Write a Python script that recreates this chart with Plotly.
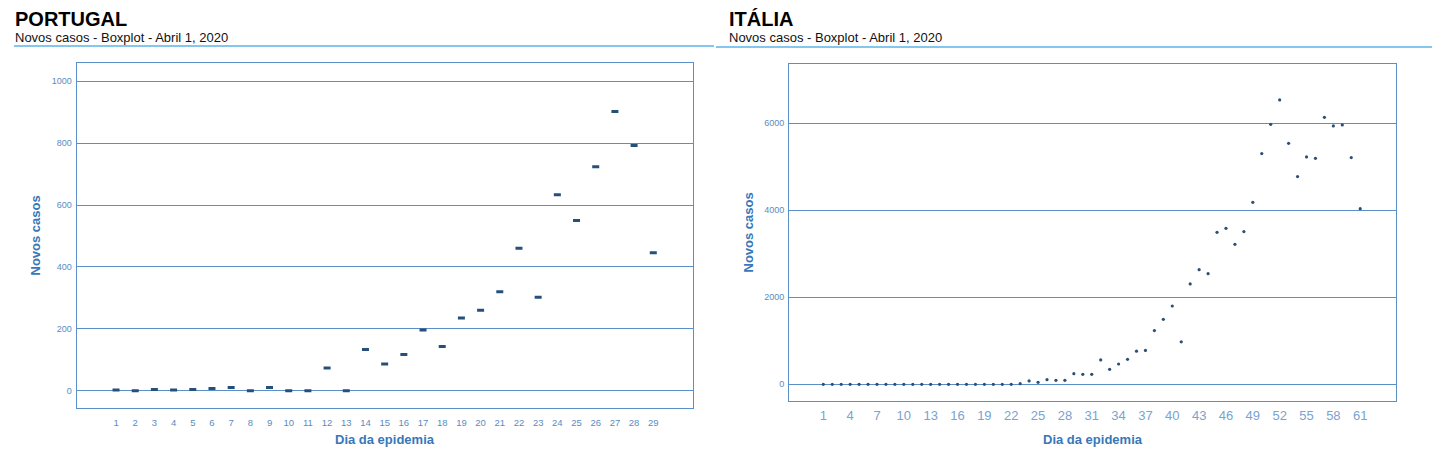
import plotly.graph_objects as go

# ---- data ----
pt_days = list(range(1, 30))
pt_new_cases = [2, 0, 4, 2, 4, 7, 10, 0, 10, 0, 0, 73, 0, 133, 86, 117, 196, 143,
                235, 260, 320, 460, 302, 633, 550, 724, 902, 792, 446]

it_days = list(range(1, 62))
it_new_cases = [0] * 22 + [15, 77, 46, 107, 92, 92, 245, 230, 230, 559, 345, 467,
                           575, 762, 778, 1234, 1494, 1800, 977, 2307, 2636, 2544,
                           3494, 3586, 3218, 3510, 4184, 5303, 5977, 6536, 5540,
                           4774, 5226, 5195, 6138, 5939, 5962, 5211, 4038]

pt_xticks = list(range(1, 30))
it_xticks = list(range(1, 62, 3))
pt_yticks = [0, 200, 400, 600, 800, 1000]
it_yticks = [0, 2000, 4000, 6000]

titles = ["PORTUGAL", "ITÁLIA"]
subtitle = "Novos casos - Boxplot - Abril 1, 2020"
x_title = "Dia da epidemia"
y_title = "Novos casos"

W, H = 1440, 469
GRID = "#5a8fc7"
TICK = "#5a8cc0"
TITLE_BLUE = "#3877b8"
FONT = "Liberation Sans, Arial, sans-serif"

def px_x(p):
    return p / W

def px_y(p):
    return 1 - p / H

fig = go.Figure()

fig.add_trace(go.Scatter(
    x=pt_days, y=pt_new_cases, mode="markers", xaxis="x", yaxis="y",
    marker=dict(symbol="line-ew", size=5, line=dict(width=3, color="#264f7a"),
                color="#264f7a"),
    showlegend=False, hoverinfo="x+y"))

fig.add_trace(go.Scatter(
    x=it_days, y=it_new_cases, mode="markers", xaxis="x2", yaxis="y2",
    marker=dict(symbol="circle", size=3.2, color="#2d4f75"),
    showlegend=False, hoverinfo="x+y"))

axis_common = dict(showline=True, mirror=True, linecolor=GRID, linewidth=1.3,
                   zeroline=False, ticks="", fixedrange=True)

fig.update_layout(
    width=W, height=H,
    margin=dict(l=0, r=0, t=0, b=0),
    paper_bgcolor="white", plot_bgcolor="white",
    font=dict(family=FONT),
    xaxis=dict(domain=[px_x(76.7), px_x(693)], range=[-1.05, 31.07],
               tickmode="array", tickvals=pt_xticks,
               ticktext=[str(v) for v in pt_xticks],
               tickfont=dict(size=9.5, color=TICK, family=FONT),
               showgrid=False, anchor="y", ticklabelstandoff=6, **axis_common),
    yaxis=dict(domain=[px_y(407.7), px_y(63.3)], range=[-55, 1058],
               tickmode="array", tickvals=pt_yticks,
               tickfont=dict(size=9, color=TICK, family=FONT),
               showgrid=True, gridcolor=GRID, gridwidth=1.3, anchor="x",
               ticklabelstandoff=2, **axis_common),
    xaxis2=dict(domain=[px_x(789.3), px_x(1396)], range=[-2.8, 65.0],
                tickmode="array", tickvals=it_xticks,
                ticktext=[str(v) for v in it_xticks],
                tickfont=dict(size=13, color="#7aa3cf", family=FONT),
                showgrid=False, anchor="y2", ticklabelstandoff=2, **axis_common),
    yaxis2=dict(domain=[px_y(401.3), px_y(64)], range=[-391, 7363],
                tickmode="array", tickvals=it_yticks,
                tickfont=dict(size=9, color=TICK, family=FONT),
                showgrid=True, gridcolor=GRID, gridwidth=1.3, anchor="x2",
                ticklabelstandoff=2, **axis_common),
)

annotations = []
for i, (xpix, t) in enumerate([(14, titles[0]), (728, titles[1])]):
    annotations.append(dict(x=px_x(xpix - 1), y=px_y(19.5), xref="paper", yref="paper",
                            text="<b>" + t + "</b>", showarrow=False,
                            xanchor="left", yanchor="middle",
                            font=dict(size=20, color="#000000", family=FONT)))
    annotations.append(dict(x=px_x(xpix - 1), y=px_y(37.5), xref="paper", yref="paper",
                            text=subtitle, showarrow=False,
                            xanchor="left", yanchor="middle",
                            font=dict(size=13, color="#111111", family=FONT)))

for xc, yc in [(35, 235.5), (748, 232.5)]:
    annotations.append(dict(x=px_x(xc), y=px_y(yc), xref="paper", yref="paper",
                            text="<b>" + y_title + "</b>", showarrow=False,
                            textangle=-90, xanchor="center", yanchor="middle",
                            font=dict(size=13, color=TITLE_BLUE, family=FONT)))
for xc in [384.5, 1092.5]:
    annotations.append(dict(x=px_x(xc), y=px_y(439), xref="paper", yref="paper",
                            text="<b>" + x_title + "</b>", showarrow=False,
                            xanchor="center", yanchor="middle",
                            font=dict(size=13, color=TITLE_BLUE, family=FONT)))

shapes = [
    dict(type="line", xref="paper", yref="paper", x0=px_x(14), x1=px_x(714),
         y0=px_y(46), y1=px_y(46), line=dict(color="#5ab4e8", width=1.6)),
    dict(type="line", xref="paper", yref="paper", x0=px_x(716), x1=px_x(1432),
         y0=px_y(47), y1=px_y(47), line=dict(color="#5ab4e8", width=1.6)),
]

fig.update_layout(annotations=annotations, shapes=shapes)

fig.write_html("out.html", config={"displayModeBar": False},
               post_script="document.body.style.margin='0';document.body.style.overflow='hidden';")
